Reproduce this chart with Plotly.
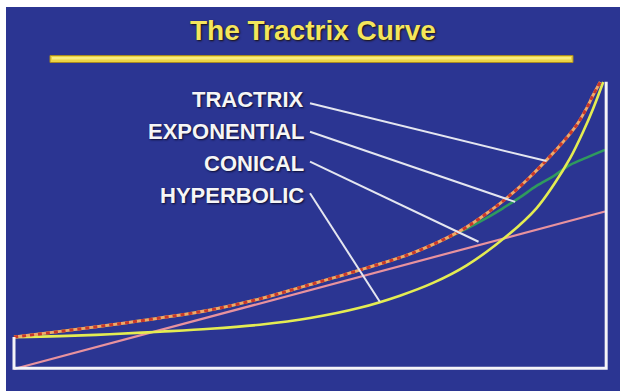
import plotly.graph_objects as go

# ---- data (axial distance 0..10, radius in throat units) ----
tractrix_x = [0, 0.78, 1.62, 2.47, 3.32, 4.16, 4.92, 5.97, 6.75, 7.55, 8.05, 8.44, 8.73, 9.01, 9.29, 9.52, 9.69, 9.80, 9.92]
tractrix_y = [1.00, 1.18, 1.38, 1.60, 1.85, 2.20, 2.60, 3.17, 3.64, 4.33, 4.95, 5.52, 6.02, 6.55, 7.12, 7.65, 8.18, 8.59, 9.00]

exponential_x = [0, 0.78, 1.62, 2.47, 3.32, 4.16, 4.92, 5.97, 6.75, 7.55, 8.00, 8.28, 8.56, 8.84, 9.13, 9.41, 9.69, 10.0]
exponential_y = [1.00, 1.18, 1.38, 1.60, 1.85, 2.20, 2.60, 3.17, 3.64, 4.30, 4.74, 5.05, 5.38, 5.74, 6.05, 6.40, 6.63, 6.87]

conical_x = [0, 10.0]
conical_y = [0, 4.94]

hyperbolic_x = [0, 0.78, 1.62, 2.47, 3.32, 4.16, 5.01, 5.85, 6.53, 7.09, 7.66, 8.39, 8.84, 9.13, 9.41, 9.63, 9.80, 9.97]
hyperbolic_y = [1.00, 1.03, 1.09, 1.17, 1.26, 1.39, 1.60, 1.92, 2.30, 2.70, 3.25, 4.25, 5.04, 5.77, 6.61, 7.44, 8.17, 9.00]

labels = ["TRACTRIX", "EXPONENTIAL", "CONICAL", "HYPERBOLIC"]
# points on each curve that the leader lines point to
pointer_x = [9.01, 8.48, 7.86, 6.19]
pointer_y = [6.52, 5.24, 3.99, 2.11]

title_text = "The Tractrix Curve"

# frame of the horn (throat 1, length 10, mouth 9)
frame_x = [0, 0, 10.02, 10.02]
frame_y = [1.0, 0.02, 0.02, 9.01]

# ---- pixel helpers for layout placement (figure pixels) ----
W, H = 620, 391
ML, MT = 6, 7              # white strip at left/top
X0PX, XSCALE = 14, 59.1
Y0PX, YSCALE = 369, 31.89


def px2x(p):
    return (p - X0PX) / XSCALE


def py2y(p):
    return (Y0PX - p) / YSCALE


BG = "#2b3592"

fig = go.Figure()

fig.add_trace(go.Scatter(x=conical_x, y=conical_y, mode="lines",
                         line=dict(color="#e8929e", width=2.2), hoverinfo="skip"))
fig.add_trace(go.Scatter(x=exponential_x, y=exponential_y, mode="lines",
                         line=dict(color="#2f9a5e", width=2.6, shape="spline", smoothing=1.0),
                         hoverinfo="skip"))
fig.add_trace(go.Scatter(x=hyperbolic_x, y=hyperbolic_y, mode="lines",
                         line=dict(color="#e4ec52", width=2.6, shape="spline", smoothing=1.0),
                         hoverinfo="skip"))
fig.add_trace(go.Scatter(x=tractrix_x, y=tractrix_y, mode="lines",
                         line=dict(color="#f0a868", width=3, shape="spline", smoothing=1.0),
                         hoverinfo="skip"))
fig.add_trace(go.Scatter(x=tractrix_x, y=tractrix_y, mode="lines",
                         line=dict(color="#c8382a", width=3, dash="4px,4px", shape="spline", smoothing=1.0),
                         hoverinfo="skip"))
fig.add_trace(go.Scatter(x=frame_x, y=frame_y, mode="lines",
                         line=dict(color="#f4f4f8", width=3), hoverinfo="skip"))

shapes = []
annotations = []

# title bar
shapes.append(dict(type="rect", xref="x", yref="y",
                   x0=px2x(50), x1=px2x(573), y0=py2y(62.5), y1=py2y(55.5),
                   fillcolor="#ecd444", line=dict(color="#a88a22", width=1), layer="above"))
shapes.append(dict(type="rect", xref="x", yref="y",
                   x0=px2x(52), x1=px2x(571), y0=py2y(59.5), y1=py2y(57),
                   fillcolor="#f8ec80", line=dict(width=0), layer="above"))

annotations.append(dict(x=px2x(313), y=py2y(30), xref="x", yref="y", text=title_text,
                        showarrow=False, xanchor="center", yanchor="middle",
                        font=dict(family="Liberation Sans, Arial", size=28, color="#f4e65c",
                                  weight="bold", shadow="1px 1px 2px #1a1008")))

label_y_px = [99.5, 131.7, 163.3, 195]
leader_start_y_px = [103.3, 131.7, 161.7, 193.3]
for i, lab in enumerate(labels):
    annotations.append(dict(x=px2x(306), y=py2y(label_y_px[i]), xref="x", yref="y", text=lab,
                            showarrow=False, xanchor="right", yanchor="middle",
                            font=dict(family="Liberation Sans, Arial", size=22, color="#f6f6f6",
                                      weight="bold", shadow="1px 1px 2px #0c0c30")))
    shapes.append(dict(type="line", xref="x", yref="y",
                       x0=px2x(310), y0=py2y(leader_start_y_px[i]),
                       x1=pointer_x[i], y1=pointer_y[i],
                       line=dict(color="#e4e6f0", width=2), layer="above"))

fig.update_layout(
    width=W, height=H,
    margin=dict(l=ML, r=0, t=MT, b=0),
    paper_bgcolor="white",
    plot_bgcolor=BG,
    showlegend=False,
    hovermode=False,
    shapes=shapes,
    annotations=annotations,
    xaxis=dict(range=[px2x(ML), px2x(W)], visible=False, fixedrange=True),
    yaxis=dict(range=[py2y(H), py2y(MT)], visible=False, fixedrange=True),
)

page_js = ("document.documentElement.style.overflow='hidden';"
           "document.documentElement.style.background='%s';"
           "document.body.style.overflow='hidden';"
           "document.body.style.background='%s';"
           "document.body.style.margin='0';" % (BG, BG))

fig.write_html("out.html", config=dict(displayModeBar=False), post_script=page_js)
